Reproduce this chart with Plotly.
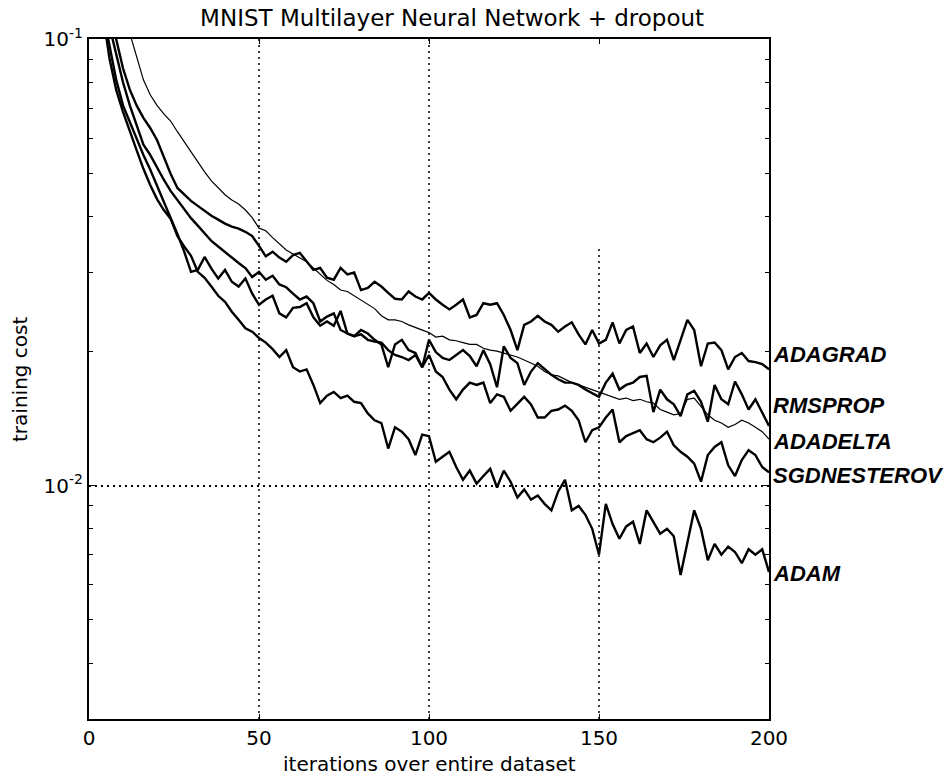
import math
import plotly.graph_objects as go

# ---- data -------------------------------------------------------------
iterations = list(range(2, 201, 2))

adagrad = [0.175, 0.139, 0.116, 0.100, 0.086, 0.077, 0.071, 0.0666, 0.0632, 0.0594,
           0.0545, 0.0499, 0.0464, 0.0448, 0.0434, 0.0423, 0.0412, 0.0402, 0.0394, 0.0386,
           0.0380, 0.0376, 0.0370, 0.0362, 0.0344, 0.0326, 0.0334, 0.0324, 0.0317, 0.0328,
           0.0332, 0.0317, 0.0304, 0.0307, 0.0292, 0.0289, 0.0307, 0.0297, 0.0300, 0.0274,
           0.0277, 0.0286, 0.0279, 0.0270, 0.0262, 0.0261, 0.0272, 0.0265, 0.0261, 0.0270,
           0.0261, 0.0254, 0.0248, 0.0254, 0.0261, 0.0238, 0.0241, 0.0256, 0.0254, 0.0256,
           0.0241, 0.0223, 0.0201, 0.0229, 0.0233, 0.0240, 0.0233, 0.0229, 0.0221, 0.0227,
           0.0232, 0.0218, 0.0207, 0.0223, 0.0208, 0.0212, 0.0232, 0.0208, 0.0223, 0.0227,
           0.0198, 0.0208, 0.0194, 0.0206, 0.0212, 0.0191, 0.0212, 0.0235, 0.0223, 0.0185,
           0.0208, 0.0209, 0.0201, 0.0182, 0.0194, 0.0198, 0.0190, 0.0189, 0.0187, 0.0182]

rmsprop = [0.150, 0.125, 0.107, 0.092, 0.080, 0.071, 0.064, 0.058, 0.055, 0.0514,
           0.0484, 0.0457, 0.0436, 0.0414, 0.0397, 0.0382, 0.0367, 0.0353, 0.0343, 0.0334,
           0.0324, 0.0315, 0.0307, 0.0293, 0.0301, 0.0289, 0.0295, 0.0282, 0.0278, 0.0269,
           0.0261, 0.0265, 0.0256, 0.0233, 0.0239, 0.0243, 0.0223, 0.0219, 0.0216, 0.0218,
           0.0212, 0.0210, 0.0209, 0.0201, 0.0196, 0.0194, 0.0191, 0.0196, 0.0184, 0.0212,
           0.0199, 0.0193, 0.0191, 0.0196, 0.0201, 0.0195, 0.0185, 0.0201, 0.0187, 0.0166,
           0.0205, 0.0193, 0.0188, 0.0168, 0.0180, 0.0188, 0.0182, 0.0177, 0.0173, 0.0170,
           0.0170, 0.0168, 0.0164, 0.0161, 0.0158, 0.0170, 0.0178, 0.0164, 0.0168, 0.0170,
           0.0175, 0.0176, 0.0146, 0.0164, 0.0156, 0.0152, 0.0143, 0.0160, 0.0163, 0.0154,
           0.0139, 0.0168, 0.0156, 0.0152, 0.0171, 0.0160, 0.0148, 0.0156, 0.0146, 0.0136]

adadelta = [0.227, 0.175, 0.146, 0.129, 0.116, 0.103, 0.091, 0.081, 0.075, 0.071,
            0.068, 0.0655, 0.0620, 0.0588, 0.0558, 0.0530, 0.0504, 0.0481, 0.0464, 0.0448,
            0.0436, 0.0427, 0.0414, 0.0398, 0.0377, 0.0372, 0.0359, 0.0348, 0.0337, 0.0330,
            0.0324, 0.0317, 0.0307, 0.0298, 0.0288, 0.0282, 0.0274, 0.0272, 0.0266, 0.0261,
            0.0255, 0.0249, 0.0240, 0.0235, 0.0235, 0.0233, 0.0229, 0.0226, 0.0223, 0.0220,
            0.0215, 0.0216, 0.0212, 0.0211, 0.0209, 0.0207, 0.0207, 0.0203, 0.0201, 0.0200,
            0.0198, 0.0196, 0.0194, 0.0191, 0.0188, 0.0185, 0.0180, 0.0177, 0.0176, 0.0173,
            0.0170, 0.0168, 0.0166, 0.0164, 0.0162, 0.0160, 0.0158, 0.0156, 0.0157, 0.0155,
            0.0156, 0.0154, 0.0153, 0.0148, 0.0146, 0.0144, 0.0145, 0.0156, 0.0157, 0.0150,
            0.0144, 0.0140, 0.0138, 0.0135, 0.0137, 0.0140, 0.0138, 0.0135, 0.0132, 0.0127]

sgdnesterov = [0.166, 0.116, 0.097, 0.081, 0.071, 0.065, 0.060, 0.055, 0.051, 0.047,
               0.043, 0.0398, 0.0366, 0.0334, 0.0301, 0.0304, 0.0325, 0.0306, 0.0291, 0.0304,
               0.0286, 0.0279, 0.0291, 0.0269, 0.0254, 0.0261, 0.0266, 0.0243, 0.0238, 0.0250,
               0.0251, 0.0256, 0.0238, 0.0228, 0.0233, 0.0228, 0.0246, 0.0219, 0.0216, 0.0223,
               0.0219, 0.0212, 0.0207, 0.0184, 0.0207, 0.0212, 0.0201, 0.0198, 0.0184, 0.0196,
               0.0180, 0.0175, 0.0164, 0.0156, 0.0164, 0.0170, 0.0168, 0.0170, 0.0153, 0.0160,
               0.0158, 0.0147, 0.0152, 0.0158, 0.0152, 0.0142, 0.0142, 0.0147, 0.0148, 0.0151,
               0.0147, 0.0140, 0.0125, 0.0133, 0.0135, 0.0142, 0.0148, 0.0125, 0.0129, 0.0131,
               0.0133, 0.0127, 0.0125, 0.0128, 0.0132, 0.0123, 0.0119, 0.0116, 0.0112, 0.0102,
               0.0117, 0.0122, 0.0125, 0.0111, 0.0105, 0.0114, 0.0120, 0.0117, 0.0110, 0.0107]

adam = [0.20, 0.115, 0.0907, 0.0769, 0.0687, 0.0620, 0.0564, 0.0512, 0.0471, 0.0438,
        0.0414, 0.0396, 0.0362, 0.0343, 0.0327, 0.0301, 0.0292, 0.0279, 0.0266, 0.0258,
        0.0245, 0.0235, 0.0225, 0.0221, 0.0214, 0.0209, 0.0202, 0.0194, 0.0201, 0.0184,
        0.0180, 0.0182, 0.0168, 0.0153, 0.0159, 0.0162, 0.0157, 0.0159, 0.0154, 0.0153,
        0.0145, 0.0140, 0.0138, 0.0121, 0.0135, 0.0132, 0.0127, 0.0117, 0.0130, 0.0129,
        0.0113, 0.0116, 0.0119, 0.0110, 0.0103, 0.0108, 0.0101, 0.0105, 0.0109, 0.0099,
        0.0108, 0.0102, 0.0094, 0.0098, 0.0093, 0.0095, 0.0091, 0.0088, 0.0097, 0.0103,
        0.0088, 0.0090, 0.0086, 0.0080, 0.0070, 0.0091, 0.0082, 0.0076, 0.0081, 0.0083,
        0.0074, 0.0088, 0.0083, 0.0078, 0.0080, 0.0077, 0.0063, 0.0074, 0.0088, 0.0080,
        0.0068, 0.0074, 0.0070, 0.0073, 0.0071, 0.0067, 0.0072, 0.0070, 0.0072, 0.0064]

series_names = ["ADAGRAD", "RMSPROP", "ADADELTA", "SGDNESTEROV", "ADAM"]
series_values = [adagrad, rmsprop, adadelta, sgdnesterov, adam]

# label anchor heights (cost values where each name is written)
label_levels = [0.0197, 0.0151, 0.01254, 0.01053, 0.00636]

x_ticks = [0, 50, 100, 150, 200]
y_ticks = [0.01, 0.1]
y_ticktext = ["10<sup>-2</sup>", "10<sup>-1</sup>"]
y_minor = [0.003, 0.004, 0.005, 0.006, 0.007, 0.008, 0.009,
           0.02, 0.03, 0.04, 0.05, 0.06, 0.07, 0.08, 0.09]

# ---- figure -----------------------------------------------------------
FONT = "DejaVu Sans"
fig = go.Figure()

line_widths = {"ADADELTA": 1.2}
for name, vals in zip(series_names, series_values):
    fig.add_trace(go.Scatter(
        x=iterations, y=vals, mode="lines", name=name,
        line=dict(color="black", width=line_widths.get(name, 2.4)),
        showlegend=False))

# dotted vertical grid lines
for xv, top in [(50, 1.0), (100, 1.0), (150, 0.693)]:
    fig.add_shape(type="line", xref="x", yref="paper", x0=xv, x1=xv, y0=0, y1=top,
                  line=dict(color="black", width=1.5, dash="2px,4px"), layer="below")

for name, lv in zip(series_names, label_levels):
    fig.add_annotation(text="<b><i>" + name + "</i></b>", xref="paper", yref="y",
                       x=1, y=math.log10(lv), xanchor="left", yanchor="middle",
                       xshift=2, showarrow=False,
                       font=dict(family="Liberation Sans", size=22, color="black"))

fig.add_annotation(text="iterations over entire dataset", xref="paper", yref="paper",
                   x=0.5, y=-0.0655, xanchor="center", yanchor="middle", showarrow=False,
                   font=dict(family=FONT, size=20, color="black"))
fig.add_annotation(text="training cost", xref="paper", yref="paper",
                   x=-0.1015, y=0.5, xanchor="center", yanchor="middle", textangle=-90,
                   showarrow=False, font=dict(family=FONT, size=20, color="black"))

fig.update_layout(
    width=945, height=776,
    margin=dict(l=89, r=176, t=39, b=57),
    paper_bgcolor="white", plot_bgcolor="white",
    title=dict(text="MNIST Multilayer Neural Network + dropout",
               x=0.534, xref="paper", y=1 - 18 / 776, yref="container",
               xanchor="center", yanchor="middle",
               font=dict(family=FONT, size=23, color="black")),
    xaxis=dict(range=[0, 200], tickvals=x_ticks, ticks="inside", ticklen=5,
               tickwidth=1.2, tickcolor="black", showgrid=False, zeroline=False,
               showline=True, linecolor="black", linewidth=2, mirror="ticks",
               tickfont=dict(family=FONT, size=20, color="black")),
    yaxis=dict(type="log", range=[math.log10(0.003), -1], tickvals=y_ticks,
               ticktext=y_ticktext, ticks="inside", ticklen=8, tickwidth=1.2,
               tickcolor="black", showgrid=True, gridcolor="black", gridwidth=1.5,
               griddash="2px,4px", zeroline=False, showline=True, linecolor="black",
               linewidth=2, mirror="ticks",
               minor=dict(tickvals=y_minor, ticks="inside", ticklen=4,
                          tickcolor="black", tickwidth=1.2, showgrid=False),
               tickfont=dict(family=FONT, size=20, color="black")),
)

fig.write_html("out.html")
